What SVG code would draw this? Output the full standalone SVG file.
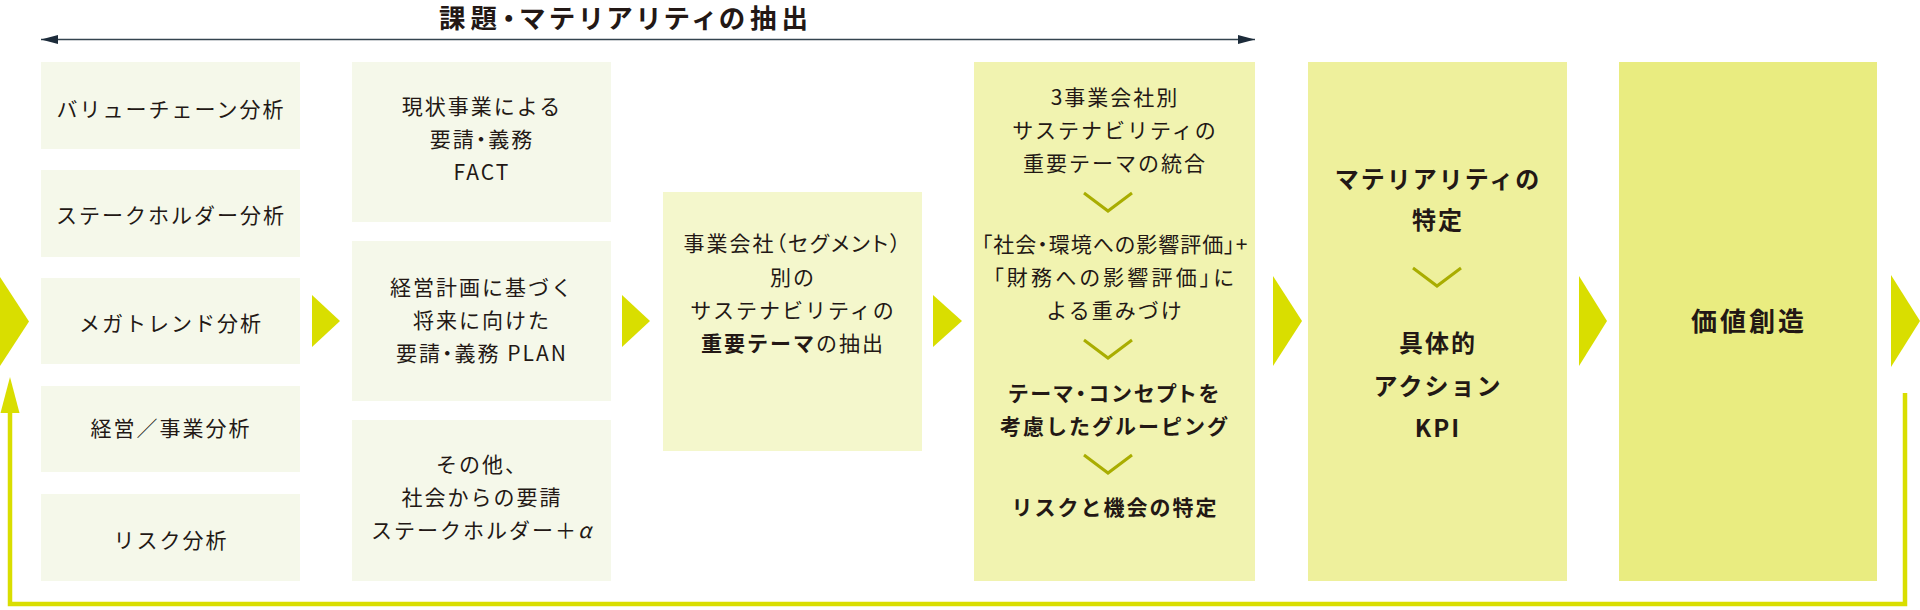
<svg xmlns="http://www.w3.org/2000/svg" width="1920" height="610" viewBox="0 0 1920 610">
<defs>
<style>
.t{font-family:"Noto Sans CJK JP","Noto Sans CJK SC",sans-serif;font-size:21px;fill:#231815;text-anchor:middle;letter-spacing:2px}
.p{font-feature-settings:"palt"}
.b{font-weight:bold}
.b24{font-size:24px;font-weight:bold;letter-spacing:2px}
.b26{font-size:26px;font-weight:bold;letter-spacing:3px}
.c1{fill:#f5f8ea}
.c3{fill:#f4f7cc}
.c4{fill:#f1f3b0}
.c5{fill:#eef09c}
.c6{fill:#e9ec80}
.tri{fill:#d9de00}
.chev{fill:none;stroke:#a9ad00;stroke-width:3}
</style>
<marker id="ah" viewBox="0 0 17 9" refX="17" refY="4.5" markerWidth="17" markerHeight="9" markerUnits="userSpaceOnUse" orient="auto-start-reverse">
<path d="M0,0 L17,4.5 L0,9 Z" fill="#1c2b3a"/>
</marker>
</defs>
<rect width="1920" height="610" fill="#ffffff"/>

<g id="title">
<text class="t b26 p" x="626" y="28" style="font-size:26.5px;letter-spacing:5px">課題・マテリアリティの抽出</text>
<line x1="41" y1="39.5" x2="1255" y2="39.5" stroke="#34444f" stroke-width="1.5" marker-start="url(#ah)" marker-end="url(#ah)"/>
</g>

<g id="connectors">
<polygon class="tri" points="0,277 29,321.5 0,366"/>
<polygon class="tri" points="312,295 340,321 312,347"/>
<polygon class="tri" points="622,295 650,321 622,347"/>
<polygon class="tri" points="933,295 962,321 933,347"/>
<polygon class="tri" points="1273,276 1302,321 1273,366"/>
<polygon class="tri" points="1579,276 1607,321 1579,366"/>
<polygon class="tri" points="1891,275 1920,321 1891,367"/>
<path d="M1905,393 V604 H10 V410" fill="none" stroke="#d9de00" stroke-width="4.5"/>
<polygon class="tri" points="10,377 0.5,413 19.5,413"/>
</g>

<g id="n-valuechain"><rect class="c1" x="41" y="62" width="259" height="87"/><text class="t" x="171" y="117">バリューチェーン分析</text></g>
<g id="n-stakeholder"><rect class="c1" x="41" y="170" width="259" height="87"/><text class="t" x="171" y="223">ステークホルダー分析</text></g>
<g id="n-megatrend"><rect class="c1" x="41" y="278" width="259" height="86"/><text class="t" x="171" y="331">メガトレンド分析</text></g>
<g id="n-management"><rect class="c1" x="41" y="386" width="259" height="86"/><text class="t" x="171" y="436">経営／事業分析</text></g>
<g id="n-risk"><rect class="c1" x="41" y="494" width="259" height="87"/><text class="t" x="171" y="548">リスク分析</text></g>

<g id="n-fact"><rect class="c1" x="352" y="62" width="259" height="160"/>
<text class="t" x="482" y="114">現状事業による</text>
<text class="t p" x="482" y="147">要請・義務</text>
<text class="t" x="482" y="180">FACT</text></g>
<g id="n-plan"><rect class="c1" x="352" y="241" width="259" height="160"/>
<text class="t" x="482" y="295">経営計画に基づく</text>
<text class="t" x="482" y="328">将来に向けた</text>
<text class="t p" x="482" y="361">要請・義務 PLAN</text></g>
<g id="n-other"><rect class="c1" x="352" y="420" width="259" height="161"/>
<text class="t" x="482" y="472">その他、</text>
<text class="t" x="482" y="505">社会からの要請</text>
<text class="t" x="482" y="538">ステークホルダー＋<tspan font-style="italic">α</tspan></text></g>

<g id="n-segment"><rect class="c3" x="663" y="192" width="259" height="259"/>
<text class="t p" x="793" y="251">事業会社（セグメント）</text>
<text class="t" x="793" y="285">別の</text>
<text class="t" x="793" y="318">サステナビリティの</text>
<text class="t" x="793" y="351"><tspan class="b">重要テーマ</tspan>の抽出</text></g>

<g id="n-integration"><rect class="c4" x="974" y="62" width="281" height="519"/>
<text class="t" x="1115" y="105">3事業会社別</text>
<text class="t" x="1115" y="138">サステナビリティの</text>
<text class="t" x="1115" y="171">重要テーマの統合</text>
<polyline class="chev" points="1084,193 1108,211 1132,193"/>
<text class="t p" x="1115" y="252" style="letter-spacing:1px">「社会・環境への影響評価」+</text>
<text class="t p" x="1115" y="285" style="letter-spacing:3.2px">「財務への影響評価」に</text>
<text class="t" x="1115" y="318">よる重みづけ</text>
<polyline class="chev" points="1084,340 1108,358 1132,340"/>
<text class="t b p" x="1115" y="401" style="letter-spacing:2.6px">テーマ・コンセプトを</text>
<text class="t b" x="1115" y="434">考慮したグルーピング</text>
<polyline class="chev" points="1084,455 1108,473 1132,455"/>
<text class="t b" x="1115" y="515">リスクと機会の特定</text></g>

<g id="n-materiality"><rect class="c5" x="1308" y="62" width="259" height="519"/>
<text class="t b24" x="1438" y="188">マテリアリティの</text>
<text class="t b24" x="1438" y="229">特定</text>
<polyline class="chev" points="1413,268 1437,286 1461,268"/>
<text class="t b24" x="1438" y="352">具体的</text>
<text class="t b24" x="1438" y="395">アクション</text>
<text class="t b24" x="1438" y="437">KPI</text></g>

<g id="n-value"><rect class="c6" x="1619" y="62" width="258" height="519"/>
<text class="t b26" x="1749" y="331">価値創造</text></g>
</svg>
